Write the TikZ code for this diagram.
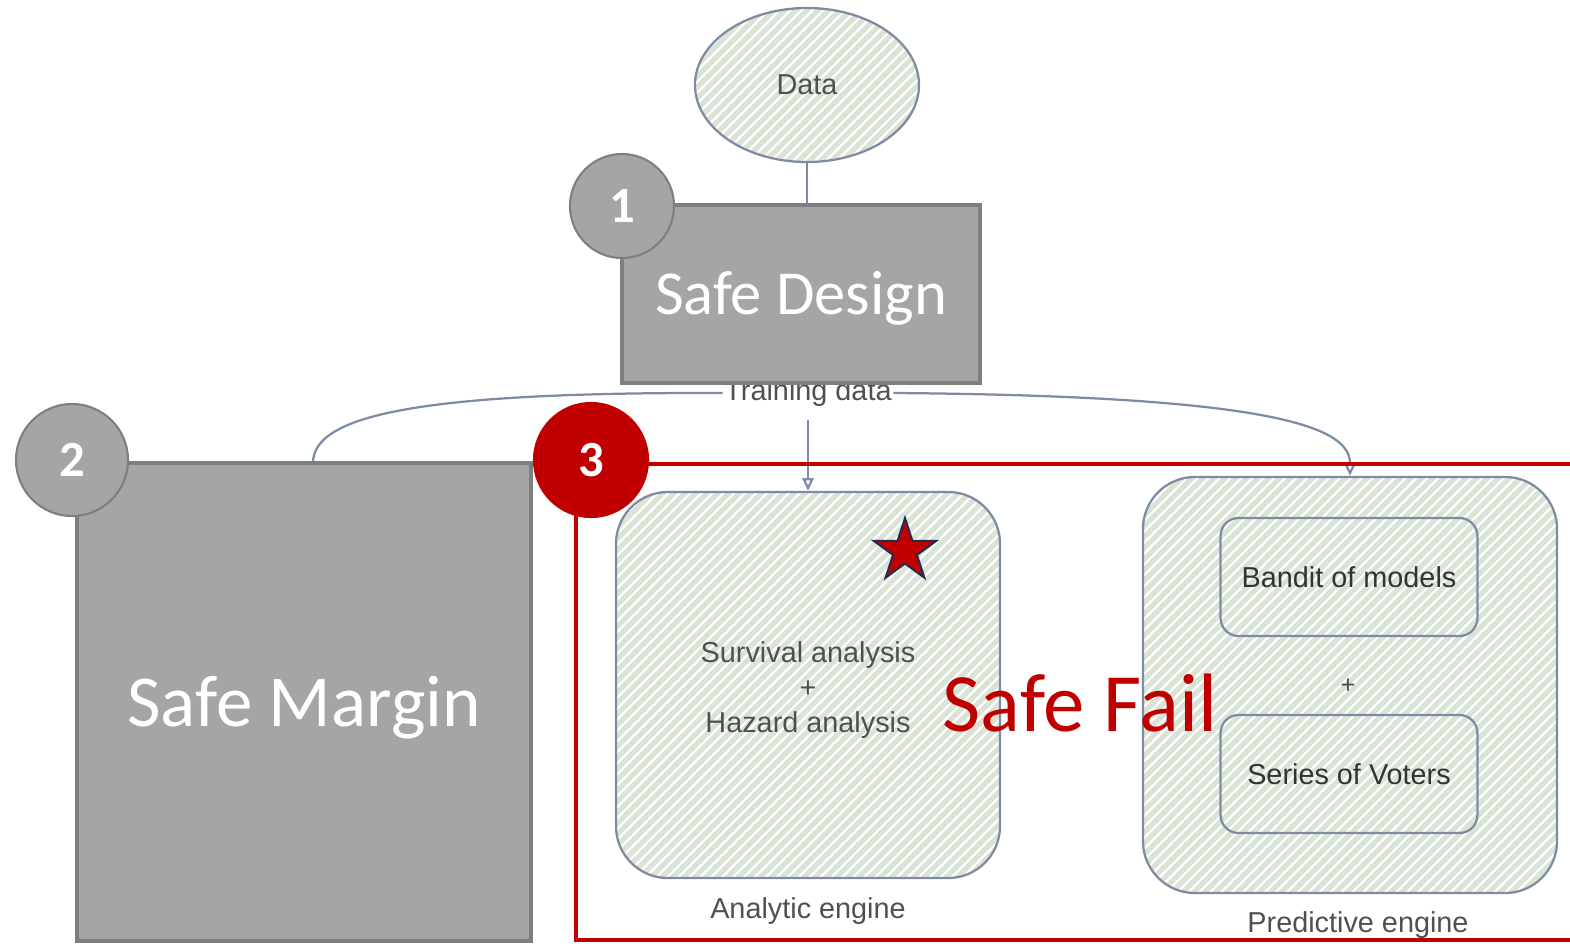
\documentclass[tikz,border=0pt]{standalone}
\usepackage{fontspec}
\setmainfont{Carlito}
\newfontfamily\drawfont{Liberation Sans}
\usetikzlibrary{arrows.meta,patterns.meta,shapes.geometric}

\definecolor{boxgray}{HTML}{A5A5A5}
\definecolor{edgegray}{HTML}{7F7F7F}
\definecolor{safered}{HTML}{C00000}
\definecolor{hatchgreen}{HTML}{DAE4D6}
\definecolor{sketchline}{HTML}{7D8CA2}
\definecolor{sketchtext}{HTML}{505050}
\definecolor{starblue}{HTML}{1F2D50}

\tikzset{
  sketch/.style={draw=sketchline,line width=1.6pt,
    preaction={fill=hatchgreen},
    pattern={Lines[angle=45,distance=5.5pt,line width=1.6pt]},pattern color=white},
  engine/.style={sketch,rounded corners=1.3cm,inner sep=0pt},
  modelbox/.style={sketch,rounded corners=0.45cm,minimum width=6.42cm,minimum height=2.95cm,
    font=\drawfont\fontsize{20.5}{25}\selectfont,text=black!80},
  safebox/.style={fill=boxgray,draw=edgegray,line width=3pt,text=white,inner sep=0pt},
  badge/.style={circle,fill=boxgray,draw=edgegray,line width=1.5pt,text=white,
    font=\bfseries\fontsize{36}{40}\selectfont,inner sep=0pt},
  sketchlabel/.style={font=\drawfont\fontsize{20.5}{25}\selectfont,text=sketchtext,inner sep=1pt},
  flow/.style={draw=sketchline,line width=1.6pt}
}

\begin{document}
\begin{tikzpicture}[x=0.025cm,y=-0.025cm]
\useasboundingbox (0,0) rectangle (1570,943);

% sketch diagram underneath
\node[sketch,ellipse,minimum width=5.6cm,minimum height=3.85cm,sketchlabel] (data) at (807,85) {Data};
\node[sketchlabel] (train) at (808,393) {Training data};
\node[engine,minimum width=9.6cm,minimum height=9.65cm] (analytic) at (808,685) {};
\node[sketchlabel,align=center] (survival) at (808,690)
  {Survival analysis\\+\\Hazard analysis};
\node[sketchlabel] (analyticlbl) at (808,911) {Analytic engine};
\node[engine,minimum width=10.35cm,minimum height=10.4cm] (predictive) at (1350,685) {};
\node[modelbox] (bandit) at (1349,577) {Bandit of models};
\node[modelbox] (voters) at (1349,774) {Series of Voters};
\node[sketchlabel,font=\drawfont\fontsize{18}{22}\selectfont] (plus) at (1348,686) {+};
\node[sketchlabel] (predictivelbl) at (1358,925) {Predictive engine};

\draw[flow] (data.south) -- (data.south |- 205,205);
\draw[flow] (train.west) .. controls (420,392) and (313,415) .. (313,463);
\draw[flow,-{Triangle[open,length=9pt,width=8pt]}] (train.east) .. controls (1290,396) and (1350,430) .. (predictive.north);
\draw[flow,-{Triangle[open,length=9pt,width=8pt]}] (808,420) -- (analytic.north);

% the three safety layers
\node[safebox,minimum width=8.95cm,minimum height=4.45cm,font=\fontsize{44.5}{50}\selectfont] (design) at (801,294) {\raisebox{-0.5cm}[0pt][0pt]{Safe Design}};
\node[safebox,minimum width=11.35cm,minimum height=11.95cm,font=\fontsize{52}{58}\selectfont] (margin) at (304,702) {\raisebox{-0.62cm}[0pt][0pt]{Safe Margin}};
\draw[safered,line width=2.8pt] (576,464) rectangle (1600,940);
\node[text=safered,font=\fontsize{59}{64}\selectfont] (fail) at (1080,703) {Safe Fail};
\node[star,star points=5,star point ratio=2.618,minimum size=1.65cm,inner sep=0pt,
  fill=safered,draw=starblue,line width=1.4pt] (mark) at (905,551) {};

\node[badge,minimum size=2.6cm] (one) at (622,206) {1};
\node[badge,minimum size=2.8cm] (two) at (72,460) {2};
\node[badge,minimum size=2.85cm,fill=safered,draw=safered] (three) at (591,460) {3};
\end{tikzpicture}
\end{document}
